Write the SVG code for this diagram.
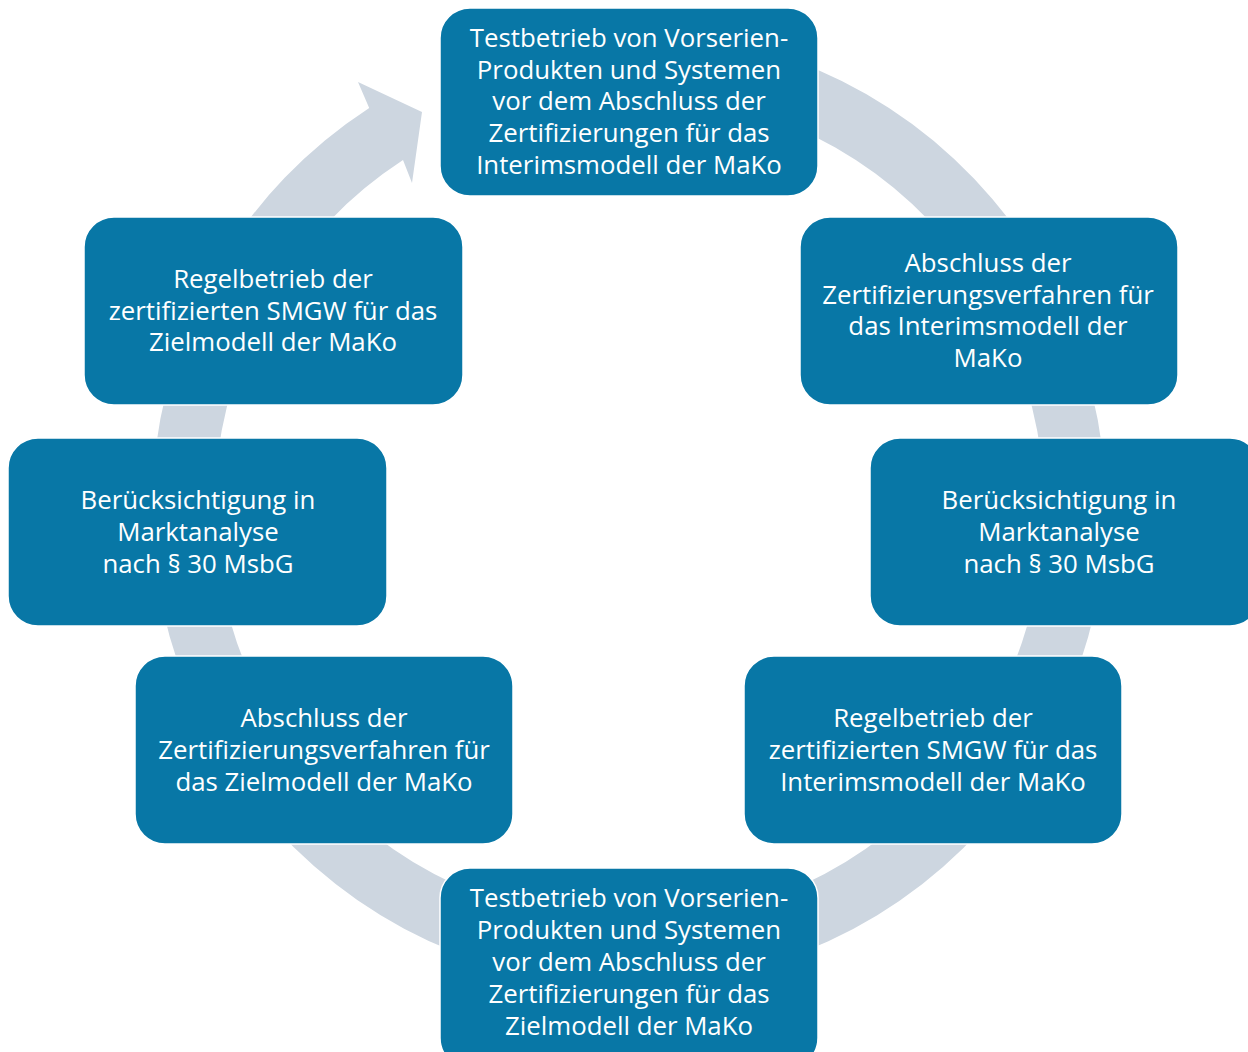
<svg xmlns="http://www.w3.org/2000/svg" width="1248" height="1052" viewBox="0 0 1248 1052">
<style>
.box{fill:#0877a6;stroke:#ffffff;stroke-width:1.5}
.t{font-family:"Open Sans","Liberation Sans",sans-serif;font-size:25.8px;fill:#ffffff;text-anchor:middle}
</style>
<rect width="1248" height="1052" fill="#ffffff"/>
<g id="connectors">
<path d="M711.8,38.2 A477,477 0 1 1 369.2,107.9 L358,82 L422,112 L412,183 L403,160 A415,415 0 1 0 701,99 Z" fill="#cdd6e0"/>
</g>
<g id="n1"><rect class="box" x="440" y="8" width="378" height="188" rx="30"/>
<text class="t" x="629" y="47">Testbetrieb von Vorserien-</text>
<text class="t" x="629" y="79">Produkten und Systemen</text>
<text class="t" x="629" y="110">vor dem Abschluss der</text>
<text class="t" x="629" y="142">Zertifizierungen für das</text>
<text class="t" x="629" y="174">Interimsmodell der MaKo</text></g>
<g id="n2"><rect class="box" x="800" y="217" width="378" height="188" rx="30"/>
<text class="t" x="988" y="272">Abschluss der</text>
<text class="t" x="988" y="304">Zertifizierungsverfahren für</text>
<text class="t" x="988" y="335">das Interimsmodell der</text>
<text class="t" x="988" y="367">MaKo</text></g>
<g id="n3"><rect class="box" x="870" y="438" width="390" height="188" rx="30"/>
<text class="t" x="1059" y="509">Berücksichtigung in</text>
<text class="t" x="1059" y="541">Marktanalyse</text>
<text class="t" x="1059" y="573">nach § 30 MsbG</text></g>
<g id="n4"><rect class="box" x="744" y="656" width="378" height="188" rx="30"/>
<text class="t" x="933" y="727">Regelbetrieb der</text>
<text class="t" x="933" y="759">zertifizierten SMGW für das</text>
<text class="t" x="933" y="791">Interimsmodell der MaKo</text></g>
<g id="n5"><rect class="box" x="440" y="868" width="378" height="200" rx="30"/>
<text class="t" x="629" y="907">Testbetrieb von Vorserien-</text>
<text class="t" x="629" y="939">Produkten und Systemen</text>
<text class="t" x="629" y="971">vor dem Abschluss der</text>
<text class="t" x="629" y="1003">Zertifizierungen für das</text>
<text class="t" x="629" y="1035">Zielmodell der MaKo</text></g>
<g id="n6"><rect class="box" x="135" y="656" width="378" height="188" rx="30"/>
<text class="t" x="324" y="727">Abschluss der</text>
<text class="t" x="324" y="759">Zertifizierungsverfahren für</text>
<text class="t" x="324" y="791">das Zielmodell der MaKo</text></g>
<g id="n7"><rect class="box" x="8" y="438" width="379" height="188" rx="30"/>
<text class="t" x="198" y="509">Berücksichtigung in</text>
<text class="t" x="198" y="541">Marktanalyse</text>
<text class="t" x="198" y="573">nach § 30 MsbG</text></g>
<g id="n8"><rect class="box" x="84" y="217" width="379" height="188" rx="30"/>
<text class="t" x="273" y="288">Regelbetrieb der</text>
<text class="t" x="273" y="320">zertifizierten SMGW für das</text>
<text class="t" x="273" y="351">Zielmodell der MaKo</text></g>
</svg>
